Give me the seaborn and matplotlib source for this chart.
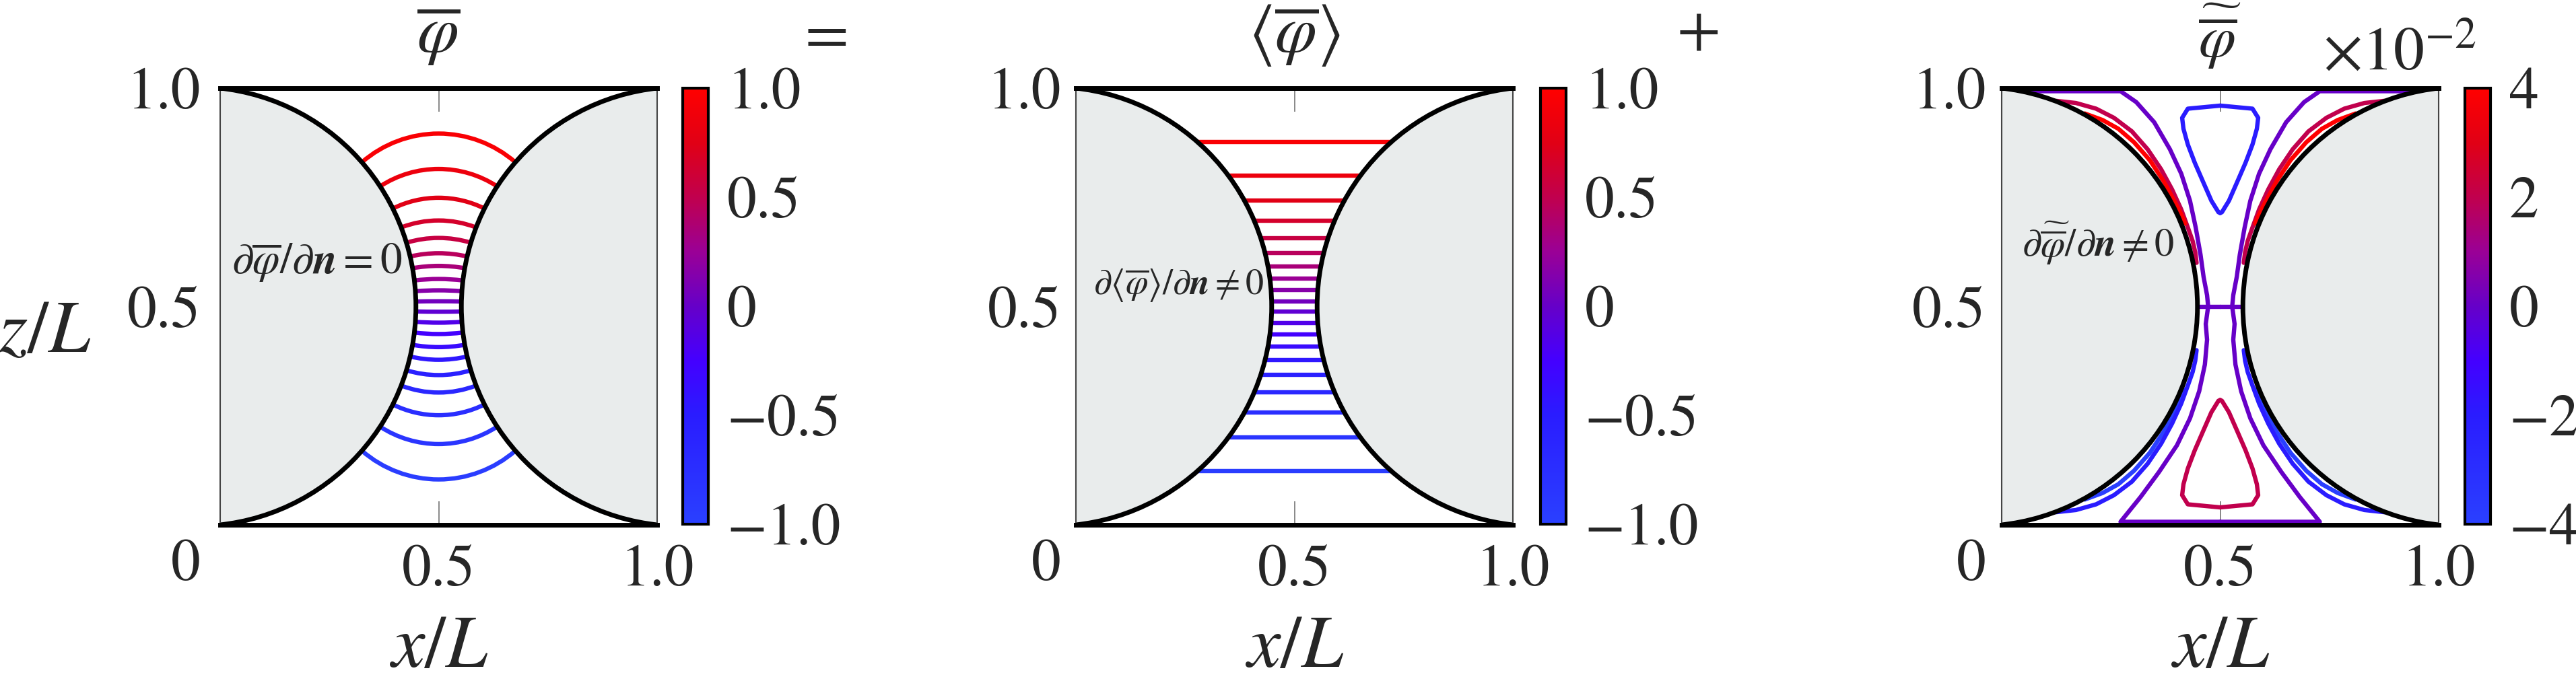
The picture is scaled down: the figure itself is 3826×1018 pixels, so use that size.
import numpy as np
import pandas as pd
import matplotlib
matplotlib.use("Agg")
import matplotlib.pyplot as plt
import seaborn as sns
from matplotlib.patches import Circle, Arc
from matplotlib.colors import LinearSegmentedColormap, Normalize
from matplotlib.cm import ScalarMappable

# contour levels of the upper half (lower half is the mirror with opposite sign)
levels_upper = [0.05, 0.15, 0.25, 0.35, 0.45, 0.55, 0.65, 0.75, 0.85, 0.95]
# panel 1: height of each contour on the centre line x/L = 0.5
z_centre = [0.512, 0.537, 0.563, 0.593, 0.622, 0.657, 0.697, 0.749, 0.815, 0.896]
# panel 2: height of each horizontal contour
z_avg = [0.512, 0.537, 0.564, 0.592, 0.622, 0.657, 0.697, 0.742, 0.800, 0.877]

# panel 3 (x10^-2), upper-left quarter
red_level = 4
red_x = [0.190, 0.231, 0.267, 0.303, 0.339, 0.370, 0.395, 0.411, 0.420]
red_z = [0.942, 0.927, 0.907, 0.876, 0.835, 0.788, 0.742, 0.711, 0.690]
mag_level = 2
mag_x = [0.124, 0.170, 0.216, 0.257, 0.298, 0.334, 0.365, 0.390, 0.411, 0.426, 0.437, 0.443, 0.446]
mag_z = [0.971, 0.966, 0.953, 0.932, 0.901, 0.860, 0.814, 0.768, 0.722, 0.681, 0.650, 0.624, 0.600]
loop_level = -2
loop_x = [0.500, 0.426, 0.413, 0.416, 0.426, 0.442, 0.462, 0.480, 0.496, 0.500]
loop_z = [0.960, 0.953, 0.932, 0.907, 0.871, 0.829, 0.783, 0.742, 0.716, 0.714]
# zero contour, left half, from the top edge down to the bottom edge
zero_x = [0.000, 0.272, 0.308, 0.349, 0.385, 0.411, 0.431, 0.444, 0.455, 0.462, 0.470, 0.4725,
          0.467, 0.470, 0.465, 0.452, 0.431, 0.401, 0.360, 0.318, 0.272, 0.500]
zero_z = [0.993, 0.993, 0.968, 0.922, 0.860, 0.804, 0.742, 0.681, 0.619, 0.568, 0.526, 0.500,
          0.460, 0.424, 0.367, 0.306, 0.244, 0.182, 0.121, 0.064, 0.007, 0.007]
zero_mid_x = [0.440, 0.500]
zero_mid_z = [0.500, 0.500]

cbar_ticks = [-1, -0.5, 0, 0.5, 1]
cbar_labels = ["\u22121.0", "\u22120.5", "0", "0.5", "1.0"]
cbar3_ticks = [-4, -2, 0, 2, 4]
cbar3_labels = ["\u22124", "\u22122", "0", "2", "4"]

# geometry of the grey bodies: arc through the corners reaching x = GAP at z = 0.5
GAP = 0.448
cw = (GAP ** 2 - 0.25) / (2 * GAP)
rw = GAP - cw

cmap = LinearSegmentedColormap.from_list("phi", [
    (0.0, "#2a40ff"), (0.25, "#2a1cff"), (0.375, "#4400ff"), (0.5, "#6600c8"),
    (0.625, "#9a0096"), (0.75, "#c0004e"), (0.875, "#e00016"), (1.0, "#ff0000")])
norm1 = Normalize(-1, 1)
norm3 = Normalize(-4, 4)

sns.set_theme(style="white")
plt.rcParams["font.family"] = ["STIXGeneral", "DejaVu Serif"]
plt.rcParams["mathtext.fontset"] = "stix"

W, H = 3826, 1018
FS = 63
LW = 4.6
fig = plt.figure(figsize=(W / 100, H / 100), dpi=100)


def rect(left, top, w, h):
    return [left / W, 1 - (top + h) / H, w / W, h / H]


panel_left = [327, 1598, 2973]
cbar_left = [1014, 2288, 3661]
ytick_pad = [21, 16, 17]
axes = [fig.add_axes(rect(l, 131, 649, 649)) for l in panel_left]
caxes = [fig.add_axes(rect(l, 131, 38, 648)) for l in cbar_left]

# panel 1: arcs meeting the walls at right angles
ax = axes[0]
for lev, zc in zip(levels_upper, z_centre):
    h = zc - 0.5
    R = ((0.5 - cw) ** 2 + h * h - rw * rw) / (2 * h)
    c = zc - R
    phi_w = np.degrees(np.arctan2(0.5 - c, cw - 0.5)) % 360
    alpha = phi_w - np.degrees(np.arctan(rw / R)) - 90
    ax.add_patch(Arc((0.5, c), 2 * R, 2 * R, theta1=90 - alpha, theta2=90 + alpha,
                     color=cmap(norm1(lev)), lw=LW, zorder=2))
    ax.add_patch(Arc((0.5, 1 - c), 2 * R, 2 * R, theta1=270 - alpha, theta2=270 + alpha,
                     color=cmap(norm1(-lev)), lw=LW, zorder=2))

# panel 2: horizontal lines
rows = []
for i, (lev, z) in enumerate(zip(levels_upper, z_avg)):
    for s, zz in ((1, z), (-1, 1 - z)):
        for x in (0.0, 1.0):
            rows.append({"x": x, "z": zz, "level": s * lev, "id": f"{i}_{s}"})
df2 = pd.DataFrame(rows)
sns.lineplot(data=df2, x="x", y="z", hue="level", units="id", estimator=None,
             palette=cmap, hue_norm=norm1, legend=False, lw=LW, sort=False, ax=axes[1])

# panel 3: mirror the quarter curves
rows = []
k = 0
for lev, xs, zs in ((red_level, red_x, red_z), (mag_level, mag_x, mag_z),
                    (loop_level, loop_x, loop_z)):
    for fx in (False, True):
        for fz in (False, True):
            for x, z in zip(xs, zs):
                rows.append({"x": 1 - x if fx else x, "z": 1 - z if fz else z,
                             "level": -lev if fz else lev, "id": k})
            k += 1
for xs, zs in ((zero_x, zero_z), (zero_mid_x, zero_mid_z)):
    for fx in (False, True):
        for x, z in zip(xs, zs):
            rows.append({"x": 1 - x if fx else x, "z": z, "level": 0, "id": k})
        k += 1
df3 = pd.DataFrame(rows)
sns.lineplot(data=df3, x="x", y="z", hue="level", units="id", estimator=None,
             palette=cmap, hue_norm=norm3, legend=False, lw=LW, sort=False, ax=axes[2])

titles = [r"$\overline{\varphi}$", r"$\langle\overline{\varphi}\rangle$",
          r"$\widetilde{\overline{\varphi}}$"]
title_fs = [72, 72, 64]
title_y = [1.082, 1.082, 1.072]
notes = [r"$\partial\overline{\varphi}/\partial\mathbfit{n}=0$",
         r"$\partial\langle\overline{\varphi}\rangle/\partial\mathbfit{n}\neq0$",
         r"$\partial\widetilde{\overline{\varphi}}/\partial\mathbfit{n}\neq0$"]
note_pos = [(0.026, 0.60), (0.040, 0.548), (0.046, 0.645)]
note_fs = [47, 39, 42]

for i, ax in enumerate(axes):
    for cx in (cw, 1 - cw):
        ax.add_patch(Circle((cx, 0.5), rw, facecolor="#e9ecec", edgecolor="black",
                            lw=5, zorder=3))
    ax.set_xlim(0, 1)
    ax.set_ylim(0, 1)
    ax.set_xlabel("")
    ax.set_ylabel("")
    ax.set_xticks([0.5, 1.0])
    ax.set_xticklabels(["0.5", "1.0"])
    ax.set_yticks([0.5, 1.0])
    ax.set_yticklabels(["0.5", "1.0"])
    ax.tick_params(axis="x", direction="in", length=25, width=1.3, color="#7f7f7f",
                   top=True, bottom=True, labelsize=FS, pad=21)
    ax.tick_params(axis="y", length=0, labelsize=FS, pad=ytick_pad[i])
    for side in ("top", "bottom"):
        ax.spines[side].set(linewidth=5, color="black", zorder=5)
    for side in ("left", "right"):
        ax.spines[side].set(linewidth=1.5, color="#444444", zorder=5)
    ax.text(-ytick_pad[i] * 1.389 / 649, -0.094, "0", transform=ax.transAxes,
            ha="right", va="center", fontsize=FS)
    ax.text(0.5, title_y[i], titles[i], transform=ax.transAxes, ha="center",
            va="baseline", fontsize=title_fs[i])
    ax.text(note_pos[i][0], note_pos[i][1], notes[i], transform=ax.transAxes,
            ha="left", va="center", fontsize=note_fs[i], zorder=6)
    ax.text(0.5, -0.285, r"$x/L$", transform=ax.transAxes, ha="center",
            va="center", fontsize=80)

for i, cax in enumerate(caxes):
    norm = norm3 if i == 2 else norm1
    cb = fig.colorbar(ScalarMappable(norm=norm, cmap=cmap), cax=cax)
    cb.set_ticks(cbar3_ticks if i == 2 else cbar_ticks)
    cb.set_ticklabels(cbar3_labels if i == 2 else cbar_labels)
    cb.outline.set_linewidth(3)
    cb.outline.set_edgecolor("black")
    cax.tick_params(axis="y", direction="in", length=27, width=1.3, color="#8a8a8a",
                    labelsize=FS, pad=20, right=True, left=False)

fig.text(66 / W, 1 - 497 / H, r"$z/L$", ha="center", va="center", fontsize=80)
fig.text(1220 / W, 1 - 55 / H, r"$=$", ha="center", va="center", fontsize=68)
fig.text(2521 / W, 1 - 50 / H, r"$+$", ha="center", va="center", fontsize=68)
fig.text(3450 / W, 1 - 103 / H, r"$\times10^{-2}$", ha="left", va="baseline", fontsize=66)

fig.savefig("out.png", dpi=100)
